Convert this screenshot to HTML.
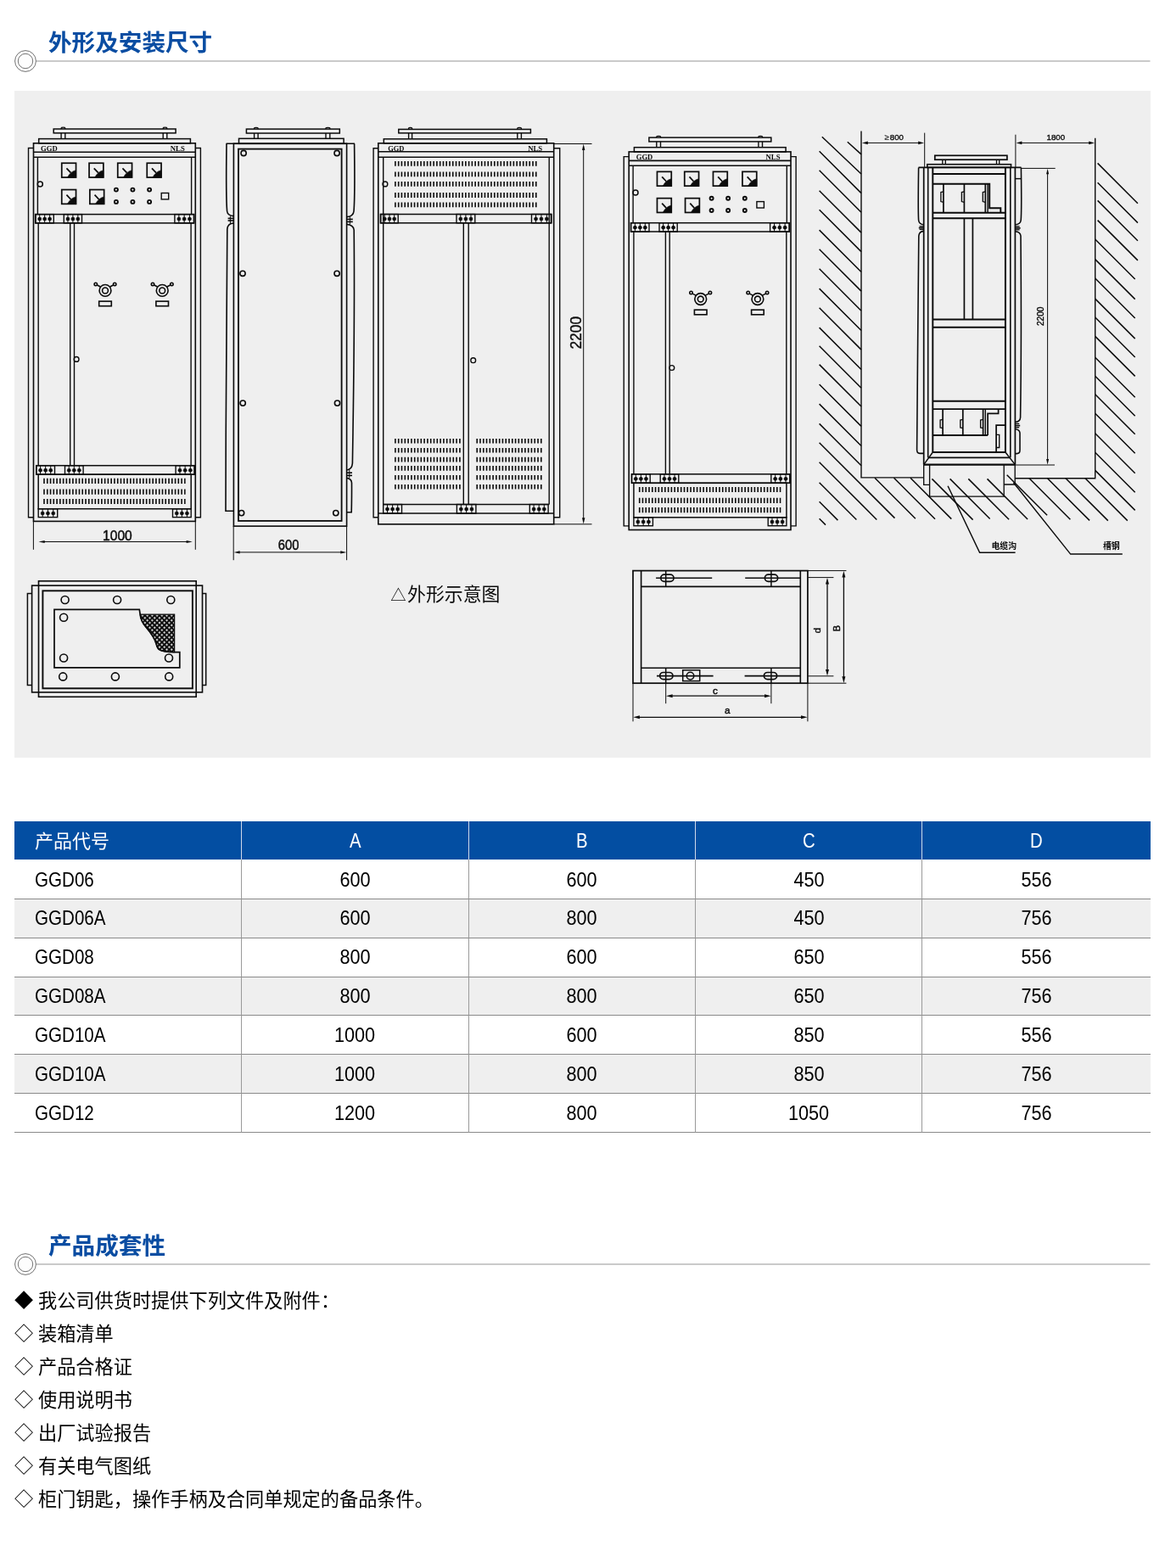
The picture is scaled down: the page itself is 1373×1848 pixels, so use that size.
<!DOCTYPE html>
<html lang="zh-CN">
<head>
<meta charset="utf-8">
<title>外形及安装尺寸</title>
<style>
*{margin:0;padding:0;box-sizing:border-box}
html,body{width:1373px;height:1848px;background:#fff;overflow:hidden}
body{position:relative;will-change:transform;font-family:"Liberation Sans","Noto Sans CJK SC",sans-serif;color:#000}
.h{position:absolute;left:57px;height:40px;line-height:40px;font-size:27.6px;font-weight:700;color:#0a4da2;white-space:nowrap}
.rule{position:absolute;left:0;width:1373px;height:30px}
.panel{position:absolute;left:17px;top:107px;width:1338.5px;height:786px;background:#efefef}
#draw{position:absolute;left:0;top:100px;width:1373px;height:800px}
table{position:absolute;left:17px;top:968px;width:1338.6px;border-collapse:separate;border-spacing:0;table-layout:fixed;font-size:22px;line-height:30px}
th,td{height:45.85px;padding:0;text-align:center;font-weight:400;vertical-align:top;white-space:nowrap;overflow:hidden}
th{background:#034ea2;color:#fff;height:45.4px;padding-top:7.6px}
td{border-bottom:1.2px solid #8a8a8a;padding-top:7.6px}
tr:first-child td{height:46.45px;padding-top:8.2px}
th+th{border-left:1.2px solid #cfd9ea}
td+td{border-left:1.2px solid #9a9a9a}
th:first-child,td:first-child{text-align:left;padding-left:24px}
tr.g td{background:#efefef}
.n{display:inline-block;font-size:23.4px;transform:scaleX(.927);transform-origin:50% 50%}
.c{display:inline-block;font-size:23.4px;transform:scaleX(.88);transform-origin:0 50%}
th .n{transform:scaleX(.87)}
th .k{display:inline-block;position:relative;top:1.5px}
.lst{position:absolute;left:17px;top:1513.6px;font-size:22.2px;line-height:39.0px;list-style:none;white-space:nowrap}
.lst li{height:39.0px}
.lst{word-spacing:-.4px}
.lst i{font-style:normal;margin-left:.3px}
</style>
</head>
<body>
<div class="h" style="top:30.6px">外形及安装尺寸</div>
<svg class="rule" style="top:57px" viewBox="0 0 1373 30" width="1373" height="30"><line x1="42.5" y1="15" x2="1355.5" y2="15" stroke="#b9b9b9" stroke-width="1.6"/><circle cx="30" cy="15" r="12.4" fill="#fff" stroke="#707070" stroke-width="1"/><circle cx="30" cy="15" r="8.7" fill="#fdfdfd" stroke="#727272" stroke-width="1"/></svg>
<div class="panel"></div>
<svg id="draw" viewBox="0 100 1373 800" width="1373" height="800" fill="none" stroke="#0c0c0c" stroke-width="1.3" font-family='"Liberation Sans","Noto Sans CJK SC",sans-serif'>
<g stroke="none" fill="#0c0c0c">
</g>
<g transform="translate(0 0)">
<path d="M72.1 152 V151 Q72.1 150.2 74.45 150.2 Q76.8 150.2 76.8 151 V152" stroke-width="1.3"/>
<line x1="72.1" y1="156.8" x2="72.1" y2="163.6" stroke-width="1.4"/>
<line x1="76.8" y1="156.8" x2="76.8" y2="163.6" stroke-width="1.4"/>
<path d="M192.2 152 V151 Q192.2 150.2 194.5 150.2 Q196.8 150.2 196.8 151 V152" stroke-width="1.3"/>
<line x1="192.2" y1="156.8" x2="192.2" y2="163.6" stroke-width="1.4"/>
<line x1="196.8" y1="156.8" x2="196.8" y2="163.6" stroke-width="1.4"/>
<rect x="63.2" y="152" width="143.9" height="4.8" stroke-width="1.51"/>
<rect x="45.7" y="163.6" width="178.7" height="5.2" stroke-width="1.51"/>
<path d="M39.5 174.5 L33.5 174.5 L33.5 609.8 L39.5 609.8" stroke-width="1.4"/>
<path d="M230.3 174.5 L236.4 174.5 L236.4 609.8 L230.3 609.8" stroke-width="1.4"/>
<rect x="39.5" y="168.8" width="190.8" height="445.6" stroke-width="1.62"/>
<line x1="39.5" y1="179.3" x2="230.3" y2="179.3" stroke-width="1.62"/>
<line x1="39.5" y1="185.2" x2="230.3" y2="185.2" stroke-width="1.62"/>
<line x1="44.4" y1="185.2" x2="44.4" y2="252.6" stroke-width="1.4"/>
<line x1="225.6" y1="185.2" x2="225.6" y2="252.6" stroke-width="1.4"/>
<text x="57.8" y="178.2" font-size="8.6" text-anchor="middle" font-weight="700" font-family='"Liberation Serif",serif' textLength="19.6" lengthAdjust="spacingAndGlyphs" fill="#0c0c0c" stroke="none">GGD</text>
<text x="209.3" y="178.2" font-size="8.6" text-anchor="middle" font-weight="700" font-family='"Liberation Serif",serif' textLength="17" lengthAdjust="spacingAndGlyphs" fill="#0c0c0c" stroke="none">NLS</text>
<rect x="72.75" y="192.25" width="16.8" height="16.8" stroke-width="1.73"/>
<path d="M89.55 209.05 H79.47 Q83.3 201.83 89.55 200.65 Z" stroke-width="0.6" fill="#0c0c0c"/>
<line x1="78.46" y1="198.3" x2="83.5" y2="203.67" stroke-width="1.73"/>
<rect x="105.05" y="192.25" width="16.8" height="16.8" stroke-width="1.73"/>
<path d="M121.85 209.05 H111.77 Q115.6 201.83 121.85 200.65 Z" stroke-width="0.6" fill="#0c0c0c"/>
<line x1="110.76" y1="198.3" x2="115.8" y2="203.67" stroke-width="1.73"/>
<rect x="138.75" y="192.25" width="16.8" height="16.8" stroke-width="1.73"/>
<path d="M155.55 209.05 H145.47 Q149.3 201.83 155.55 200.65 Z" stroke-width="0.6" fill="#0c0c0c"/>
<line x1="144.46" y1="198.3" x2="149.5" y2="203.67" stroke-width="1.73"/>
<rect x="173.25" y="192.25" width="16.8" height="16.8" stroke-width="1.73"/>
<path d="M190.05 209.05 H179.97 Q183.8 201.83 190.05 200.65 Z" stroke-width="0.6" fill="#0c0c0c"/>
<line x1="178.96" y1="198.3" x2="184" y2="203.67" stroke-width="1.73"/>
<rect x="72.75" y="223.55" width="16.8" height="16.8" stroke-width="1.73"/>
<path d="M89.55 240.35 H79.47 Q83.3 233.13 89.55 231.95 Z" stroke-width="0.6" fill="#0c0c0c"/>
<line x1="78.46" y1="229.6" x2="83.5" y2="234.97" stroke-width="1.73"/>
<rect x="105.85" y="223.55" width="16.8" height="16.8" stroke-width="1.73"/>
<path d="M122.65 240.35 H112.57 Q116.4 233.13 122.65 231.95 Z" stroke-width="0.6" fill="#0c0c0c"/>
<line x1="111.56" y1="229.6" x2="116.6" y2="234.97" stroke-width="1.73"/>
<circle cx="136.9" cy="223.6" r="2" stroke-width="1.94"/>
<circle cx="136.9" cy="237.9" r="2" stroke-width="1.94"/>
<circle cx="156.4" cy="223.6" r="2" stroke-width="1.94"/>
<circle cx="156.4" cy="237.9" r="2" stroke-width="1.94"/>
<circle cx="176.1" cy="223.6" r="2" stroke-width="1.94"/>
<circle cx="176.1" cy="237.9" r="2" stroke-width="1.94"/>
<rect x="190.2" y="227.5" width="8.5" height="7.4" stroke-width="1.4"/>
<circle cx="47.3" cy="216.9" r="3" stroke-width="1.51"/>
<rect x="41.7" y="252.6" width="187" height="10.3" stroke-width="1.51"/>
<rect x="42" y="252.6" width="21.3" height="10.3" stroke-width="1.4"/>
<line x1="46.69" y1="252.6" x2="46.69" y2="262.9" stroke-width="1"/>
<circle cx="46.69" cy="258.05" r="2.05" stroke-width="0.6" fill="#0c0c0c"/>
<line x1="52.65" y1="252.6" x2="52.65" y2="262.9" stroke-width="1"/>
<circle cx="52.65" cy="258.05" r="2.05" stroke-width="0.6" fill="#0c0c0c"/>
<line x1="58.61" y1="252.6" x2="58.61" y2="262.9" stroke-width="1"/>
<circle cx="58.61" cy="258.05" r="2.05" stroke-width="0.6" fill="#0c0c0c"/>
<rect x="75.3" y="252.6" width="21.2" height="10.3" stroke-width="1.4"/>
<line x1="79.96" y1="252.6" x2="79.96" y2="262.9" stroke-width="1"/>
<circle cx="79.96" cy="258.05" r="2.05" stroke-width="0.6" fill="#0c0c0c"/>
<line x1="85.9" y1="252.6" x2="85.9" y2="262.9" stroke-width="1"/>
<circle cx="85.9" cy="258.05" r="2.05" stroke-width="0.6" fill="#0c0c0c"/>
<line x1="91.84" y1="252.6" x2="91.84" y2="262.9" stroke-width="1"/>
<circle cx="91.84" cy="258.05" r="2.05" stroke-width="0.6" fill="#0c0c0c"/>
<rect x="205.9" y="252.6" width="22.5" height="10.3" stroke-width="1.4"/>
<line x1="210.85" y1="252.6" x2="210.85" y2="262.9" stroke-width="1"/>
<circle cx="210.85" cy="258.05" r="2.05" stroke-width="0.6" fill="#0c0c0c"/>
<line x1="217.15" y1="252.6" x2="217.15" y2="262.9" stroke-width="1"/>
<circle cx="217.15" cy="258.05" r="2.05" stroke-width="0.6" fill="#0c0c0c"/>
<line x1="223.45" y1="252.6" x2="223.45" y2="262.9" stroke-width="1"/>
<circle cx="223.45" cy="258.05" r="2.05" stroke-width="0.6" fill="#0c0c0c"/>
<line x1="45.2" y1="262.9" x2="45.2" y2="548.7" stroke-width="1.4"/>
<line x1="225.1" y1="262.9" x2="225.1" y2="548.7" stroke-width="1.4"/>
<line x1="82.7" y1="262.9" x2="82.7" y2="548.7" stroke-width="1.4"/>
<line x1="87.5" y1="262.9" x2="87.5" y2="548.7" stroke-width="1.4"/>
<circle cx="90.1" cy="423.4" r="2.9" stroke-width="1.4"/>
<circle cx="124" cy="342.4" r="6.9" stroke-width="1.62"/>
<circle cx="124" cy="342.4" r="3.4" stroke-width="1.62"/>
<line x1="118.4" y1="338" x2="114" y2="335.8" stroke-width="1.62"/>
<circle cx="112.8" cy="334.9" r="1.7" stroke-width="1.62"/>
<line x1="129.6" y1="338" x2="134" y2="335.8" stroke-width="1.62"/>
<circle cx="135.2" cy="334.9" r="1.7" stroke-width="1.62"/>
<rect x="116.7" y="355.1" width="14.6" height="5.6" stroke-width="1.62"/>
<circle cx="191.2" cy="342.4" r="6.9" stroke-width="1.62"/>
<circle cx="191.2" cy="342.4" r="3.4" stroke-width="1.62"/>
<line x1="185.6" y1="338" x2="181.2" y2="335.8" stroke-width="1.62"/>
<circle cx="180" cy="334.9" r="1.7" stroke-width="1.62"/>
<line x1="196.8" y1="338" x2="201.2" y2="335.8" stroke-width="1.62"/>
<circle cx="202.4" cy="334.9" r="1.7" stroke-width="1.62"/>
<rect x="183.9" y="355.1" width="14.6" height="5.6" stroke-width="1.62"/>
<rect x="42.8" y="548.7" width="186.4" height="10.5" stroke-width="1.51"/>
<rect x="42.8" y="548.7" width="21.7" height="10.5" stroke-width="1.4"/>
<line x1="47.57" y1="548.7" x2="47.57" y2="559.2" stroke-width="1"/>
<circle cx="47.57" cy="554.25" r="2.05" stroke-width="0.6" fill="#0c0c0c"/>
<line x1="53.65" y1="548.7" x2="53.65" y2="559.2" stroke-width="1"/>
<circle cx="53.65" cy="554.25" r="2.05" stroke-width="0.6" fill="#0c0c0c"/>
<line x1="59.73" y1="548.7" x2="59.73" y2="559.2" stroke-width="1"/>
<circle cx="59.73" cy="554.25" r="2.05" stroke-width="0.6" fill="#0c0c0c"/>
<rect x="76.5" y="548.7" width="21.6" height="10.5" stroke-width="1.4"/>
<line x1="81.25" y1="548.7" x2="81.25" y2="559.2" stroke-width="1"/>
<circle cx="81.25" cy="554.25" r="2.05" stroke-width="0.6" fill="#0c0c0c"/>
<line x1="87.3" y1="548.7" x2="87.3" y2="559.2" stroke-width="1"/>
<circle cx="87.3" cy="554.25" r="2.05" stroke-width="0.6" fill="#0c0c0c"/>
<line x1="93.35" y1="548.7" x2="93.35" y2="559.2" stroke-width="1"/>
<circle cx="93.35" cy="554.25" r="2.05" stroke-width="0.6" fill="#0c0c0c"/>
<rect x="207.1" y="548.7" width="22.1" height="10.5" stroke-width="1.4"/>
<line x1="211.96" y1="548.7" x2="211.96" y2="559.2" stroke-width="1"/>
<circle cx="211.96" cy="554.25" r="2.05" stroke-width="0.6" fill="#0c0c0c"/>
<line x1="218.15" y1="548.7" x2="218.15" y2="559.2" stroke-width="1"/>
<circle cx="218.15" cy="554.25" r="2.05" stroke-width="0.6" fill="#0c0c0c"/>
<line x1="224.34" y1="548.7" x2="224.34" y2="559.2" stroke-width="1"/>
<circle cx="224.34" cy="554.25" r="2.05" stroke-width="0.6" fill="#0c0c0c"/>
<rect x="45.2" y="559.2" width="180" height="40.5" stroke-width="1.51"/>
<line x1="51.2" y1="566.9" x2="218.6" y2="566.9" stroke-width="6.2" stroke-dasharray="1.6 2.17"/>
<line x1="51.2" y1="579.7" x2="218.6" y2="579.7" stroke-width="6.2" stroke-dasharray="1.6 2.17"/>
<line x1="51.2" y1="591" x2="218.6" y2="591" stroke-width="6.2" stroke-dasharray="1.6 2.17"/>
<rect x="45.2" y="599.7" width="22.5" height="9.9" stroke-width="1.4"/>
<line x1="50.15" y1="599.7" x2="50.15" y2="609.6" stroke-width="1"/>
<circle cx="50.15" cy="604.95" r="2.05" stroke-width="0.6" fill="#0c0c0c"/>
<line x1="56.45" y1="599.7" x2="56.45" y2="609.6" stroke-width="1"/>
<circle cx="56.45" cy="604.95" r="2.05" stroke-width="0.6" fill="#0c0c0c"/>
<line x1="62.75" y1="599.7" x2="62.75" y2="609.6" stroke-width="1"/>
<circle cx="62.75" cy="604.95" r="2.05" stroke-width="0.6" fill="#0c0c0c"/>
<rect x="203.5" y="599.7" width="21.7" height="9.9" stroke-width="1.4"/>
<line x1="208.27" y1="599.7" x2="208.27" y2="609.6" stroke-width="1"/>
<circle cx="208.27" cy="604.95" r="2.05" stroke-width="0.6" fill="#0c0c0c"/>
<line x1="214.35" y1="599.7" x2="214.35" y2="609.6" stroke-width="1"/>
<circle cx="214.35" cy="604.95" r="2.05" stroke-width="0.6" fill="#0c0c0c"/>
<line x1="220.43" y1="599.7" x2="220.43" y2="609.6" stroke-width="1"/>
<circle cx="220.43" cy="604.95" r="2.05" stroke-width="0.6" fill="#0c0c0c"/>
<line x1="39.4" y1="614.4" x2="39.4" y2="647.8" stroke-width="1"/>
<line x1="230.3" y1="614.4" x2="230.3" y2="647.8" stroke-width="1"/>
<line x1="49.82" y1="638.5" x2="222.48" y2="638.5" stroke-width="1"/>
<polygon points="45.5,638.5 52.7,636.9 52.7,640.1" fill="#0c0c0c" stroke="none"/>
<polygon points="226.8,638.5 219.6,640.1 219.6,636.9" fill="#0c0c0c" stroke="none"/>
<text x="138.4" y="636.8" font-size="15.8" text-anchor="middle" textLength="34.6" lengthAdjust="spacingAndGlyphs" fill="#0c0c0c" stroke="#0c0c0c" stroke-width="0.45">1000</text>
</g>
<path d="M299.6 152.1 V151.1 Q299.6 150.3 301.85 150.3 Q304.1 150.3 304.1 151.1 V152.1" stroke-width="1.3"/>
<line x1="299.6" y1="157" x2="299.6" y2="163.3" stroke-width="1.4"/>
<line x1="304.1" y1="157" x2="304.1" y2="163.3" stroke-width="1.4"/>
<path d="M384 152.1 V151.1 Q384 150.3 386.4 150.3 Q388.8 150.3 388.8 151.1 V152.1" stroke-width="1.3"/>
<line x1="384" y1="157" x2="384" y2="163.3" stroke-width="1.4"/>
<line x1="388.8" y1="157" x2="388.8" y2="163.3" stroke-width="1.4"/>
<rect x="290.4" y="152.1" width="109.9" height="4.9" stroke-width="1.51"/>
<rect x="281.5" y="163.3" width="123.6" height="6" stroke-width="1.51"/>
<rect x="275.4" y="169.3" width="133.2" height="450.8" stroke-width="1.62"/>
<rect x="281" y="175.6" width="121.6" height="438.3" stroke-width="1.84"/>
<line x1="266.6" y1="169.3" x2="418" y2="169.3" stroke-width="1.51"/>
<path d="M267 169.3 C266.6 200 266.4 235 267.6 249 C268.2 253 271 254.4 275.4 254.6" stroke-width="1.62"/>
<line x1="268.6" y1="257.4" x2="275.4" y2="257.4" stroke-width="1.62"/>
<line x1="268.6" y1="260" x2="275.4" y2="260" stroke-width="1.62"/>
<line x1="271.4" y1="254.6" x2="271.4" y2="263" stroke-width="1"/>
<path d="M275.4 263 C270.5 263.2 268.2 265.2 267.8 270 C267 330 266.2 480 266 602.2 H275.4" stroke-width="1.62"/>
<path d="M417.6 169.3 C418 200 418.2 235 417 249 C416.4 253.4 413.4 255.4 408.6 255.6" stroke-width="1.62"/>
<line x1="408.6" y1="258.4" x2="415.8" y2="258.4" stroke-width="1.62"/>
<line x1="408.6" y1="261.4" x2="415.8" y2="261.4" stroke-width="1.62"/>
<line x1="412.4" y1="255.6" x2="412.4" y2="264.4" stroke-width="1"/>
<path d="M408.6 264.4 C413.6 264.8 416.6 266.6 417.2 271 C417.8 330 417.2 440 415.4 546 C415 551 413 553.6 408.6 554" stroke-width="1.62"/>
<line x1="408.6" y1="557.2" x2="415" y2="557.2" stroke-width="1.62"/>
<line x1="408.6" y1="560.4" x2="415" y2="560.4" stroke-width="1.62"/>
<line x1="411.8" y1="554" x2="411.8" y2="563.4" stroke-width="1"/>
<path d="M408.6 563.4 C412.4 563.8 414.2 565.6 414.5 569 C414.6 580 414.4 595 414.2 603.8 H408.6" stroke-width="1.62"/>
<circle cx="287.1" cy="180.5" r="3.1" stroke-width="1.62"/>
<circle cx="397.1" cy="180.5" r="3.1" stroke-width="1.62"/>
<circle cx="286" cy="322.3" r="3.1" stroke-width="1.62"/>
<circle cx="397.1" cy="322.3" r="3.1" stroke-width="1.62"/>
<circle cx="286.2" cy="475.1" r="3.1" stroke-width="1.62"/>
<circle cx="397.5" cy="475.1" r="3.1" stroke-width="1.62"/>
<circle cx="284.6" cy="604.6" r="3.1" stroke-width="1.62"/>
<circle cx="395.8" cy="604.6" r="3.1" stroke-width="1.62"/>
<line x1="275.2" y1="620.1" x2="275.2" y2="660.2" stroke-width="1"/>
<line x1="408.6" y1="620.1" x2="408.6" y2="660.2" stroke-width="1"/>
<line x1="279.8" y1="650.9" x2="404.1" y2="650.9" stroke-width="1"/>
<polygon points="275.6,650.9 282.6,649.2 282.6,652.6" fill="#0c0c0c" stroke="none"/>
<polygon points="408.3,650.9 401.3,652.6 401.3,649.2" fill="#0c0c0c" stroke="none"/>
<text x="340.1" y="647.5" font-size="16.4" text-anchor="middle" textLength="24.6" lengthAdjust="spacingAndGlyphs" fill="#0c0c0c" stroke="#0c0c0c" stroke-width="0.45">600</text>
<path d="M481.6 152.4 V151.3 Q481.6 150.5 483.6 150.5 Q485.6 150.5 485.6 151.3 V152.4" stroke-width="1.3"/>
<line x1="481.6" y1="156.8" x2="481.6" y2="163.8" stroke-width="1.4"/>
<line x1="485.6" y1="156.8" x2="485.6" y2="163.8" stroke-width="1.4"/>
<path d="M609.8 152.4 V151.3 Q609.8 150.5 612.1 150.5 Q614.4 150.5 614.4 151.3 V152.4" stroke-width="1.3"/>
<line x1="609.8" y1="156.8" x2="609.8" y2="163.8" stroke-width="1.4"/>
<line x1="614.4" y1="156.8" x2="614.4" y2="163.8" stroke-width="1.4"/>
<rect x="469.8" y="152.4" width="155.6" height="4.4" stroke-width="1.51"/>
<rect x="452.3" y="163.8" width="192.1" height="5" stroke-width="1.51"/>
<path d="M445.8 174.7 L440.1 174.7 L440.1 609.8 L445.8 609.8" stroke-width="1.4"/>
<path d="M652.7 174.7 L659.7 174.7 L659.7 609.8 L652.7 609.8" stroke-width="1.4"/>
<rect x="445.8" y="168.8" width="206.9" height="449" stroke-width="1.62"/>
<line x1="445.8" y1="178.7" x2="652.7" y2="178.7" stroke-width="1.62"/>
<line x1="445.8" y1="185.2" x2="652.7" y2="185.2" stroke-width="1.62"/>
<text x="466.8" y="178.1" font-size="8.6" text-anchor="middle" font-weight="700" font-family='"Liberation Serif",serif' textLength="19.3" lengthAdjust="spacingAndGlyphs" fill="#0c0c0c" stroke="none">GGD</text>
<text x="630.7" y="178.1" font-size="8.6" text-anchor="middle" font-weight="700" font-family='"Liberation Serif",serif' textLength="17" lengthAdjust="spacingAndGlyphs" fill="#0c0c0c" stroke="none">NLS</text>
<line x1="451.7" y1="185.2" x2="451.7" y2="594.5" stroke-width="1.4"/>
<line x1="647.2" y1="185.2" x2="647.2" y2="594.5" stroke-width="1.4"/>
<line x1="465.1" y1="192.9" x2="632.7" y2="192.9" stroke-width="5.8" stroke-dasharray="1.6 2.17"/>
<line x1="465.1" y1="205.3" x2="632.7" y2="205.3" stroke-width="5.8" stroke-dasharray="1.6 2.17"/>
<line x1="465.1" y1="216.9" x2="632.7" y2="216.9" stroke-width="5.8" stroke-dasharray="1.6 2.17"/>
<line x1="465.1" y1="230" x2="632.7" y2="230" stroke-width="5.8" stroke-dasharray="1.6 2.17"/>
<line x1="465.1" y1="241.4" x2="632.7" y2="241.4" stroke-width="5.8" stroke-dasharray="1.6 2.17"/>
<circle cx="453.9" cy="216.9" r="2.9" stroke-width="1.4"/>
<rect x="448.4" y="252.5" width="201.5" height="10.3" stroke-width="1.51"/>
<rect x="448.8" y="252.5" width="20.4" height="10.3" stroke-width="1.4"/>
<line x1="453.29" y1="252.5" x2="453.29" y2="262.8" stroke-width="1"/>
<circle cx="453.29" cy="257.95" r="2.05" stroke-width="0.6" fill="#0c0c0c"/>
<line x1="459" y1="252.5" x2="459" y2="262.8" stroke-width="1"/>
<circle cx="459" cy="257.95" r="2.05" stroke-width="0.6" fill="#0c0c0c"/>
<line x1="464.71" y1="252.5" x2="464.71" y2="262.8" stroke-width="1"/>
<circle cx="464.71" cy="257.95" r="2.05" stroke-width="0.6" fill="#0c0c0c"/>
<rect x="538" y="252.5" width="21.8" height="10.3" stroke-width="1.4"/>
<line x1="542.8" y1="252.5" x2="542.8" y2="262.8" stroke-width="1"/>
<circle cx="542.8" cy="257.95" r="2.05" stroke-width="0.6" fill="#0c0c0c"/>
<line x1="548.9" y1="252.5" x2="548.9" y2="262.8" stroke-width="1"/>
<circle cx="548.9" cy="257.95" r="2.05" stroke-width="0.6" fill="#0c0c0c"/>
<line x1="555" y1="252.5" x2="555" y2="262.8" stroke-width="1"/>
<circle cx="555" cy="257.95" r="2.05" stroke-width="0.6" fill="#0c0c0c"/>
<rect x="626.5" y="252.5" width="22.9" height="10.3" stroke-width="1.4"/>
<line x1="631.54" y1="252.5" x2="631.54" y2="262.8" stroke-width="1"/>
<circle cx="631.54" cy="257.95" r="2.05" stroke-width="0.6" fill="#0c0c0c"/>
<line x1="637.95" y1="252.5" x2="637.95" y2="262.8" stroke-width="1"/>
<circle cx="637.95" cy="257.95" r="2.05" stroke-width="0.6" fill="#0c0c0c"/>
<line x1="644.36" y1="252.5" x2="644.36" y2="262.8" stroke-width="1"/>
<circle cx="644.36" cy="257.95" r="2.05" stroke-width="0.6" fill="#0c0c0c"/>
<line x1="546.3" y1="262.8" x2="546.3" y2="594.5" stroke-width="1.4"/>
<line x1="552.2" y1="262.8" x2="552.2" y2="594.5" stroke-width="1.4"/>
<circle cx="557.7" cy="424.7" r="2.9" stroke-width="1.4"/>
<line x1="465.1" y1="519.7" x2="542.7" y2="519.7" stroke-width="5.6" stroke-dasharray="1.6 2.2"/>
<line x1="465.1" y1="530.7" x2="542.7" y2="530.7" stroke-width="5.6" stroke-dasharray="1.6 2.2"/>
<line x1="465.1" y1="541.6" x2="542.7" y2="541.6" stroke-width="5.6" stroke-dasharray="1.6 2.2"/>
<line x1="465.1" y1="551.9" x2="542.7" y2="551.9" stroke-width="5.6" stroke-dasharray="1.6 2.2"/>
<line x1="465.1" y1="562.8" x2="542.7" y2="562.8" stroke-width="5.6" stroke-dasharray="1.6 2.2"/>
<line x1="465.1" y1="573.7" x2="542.7" y2="573.7" stroke-width="5.6" stroke-dasharray="1.6 2.2"/>
<line x1="561.4" y1="519.7" x2="638.6" y2="519.7" stroke-width="5.6" stroke-dasharray="1.6 2.18"/>
<line x1="561.4" y1="530.7" x2="638.6" y2="530.7" stroke-width="5.6" stroke-dasharray="1.6 2.18"/>
<line x1="561.4" y1="541.6" x2="638.6" y2="541.6" stroke-width="5.6" stroke-dasharray="1.6 2.18"/>
<line x1="561.4" y1="551.9" x2="638.6" y2="551.9" stroke-width="5.6" stroke-dasharray="1.6 2.18"/>
<line x1="561.4" y1="562.8" x2="638.6" y2="562.8" stroke-width="5.6" stroke-dasharray="1.6 2.18"/>
<line x1="561.4" y1="573.7" x2="638.6" y2="573.7" stroke-width="5.6" stroke-dasharray="1.6 2.18"/>
<line x1="451.7" y1="594.5" x2="647.2" y2="594.5" stroke-width="1.51"/>
<line x1="445.8" y1="605" x2="652.7" y2="605" stroke-width="1.62"/>
<rect x="451.7" y="594.5" width="21.8" height="10.5" stroke-width="1.4"/>
<line x1="456.5" y1="594.5" x2="456.5" y2="605" stroke-width="1"/>
<circle cx="456.5" cy="600.05" r="2.05" stroke-width="0.6" fill="#0c0c0c"/>
<line x1="462.6" y1="594.5" x2="462.6" y2="605" stroke-width="1"/>
<circle cx="462.6" cy="600.05" r="2.05" stroke-width="0.6" fill="#0c0c0c"/>
<line x1="468.7" y1="594.5" x2="468.7" y2="605" stroke-width="1"/>
<circle cx="468.7" cy="600.05" r="2.05" stroke-width="0.6" fill="#0c0c0c"/>
<rect x="538.4" y="594.5" width="22.5" height="10.5" stroke-width="1.4"/>
<line x1="543.35" y1="594.5" x2="543.35" y2="605" stroke-width="1"/>
<circle cx="543.35" cy="600.05" r="2.05" stroke-width="0.6" fill="#0c0c0c"/>
<line x1="549.65" y1="594.5" x2="549.65" y2="605" stroke-width="1"/>
<circle cx="549.65" cy="600.05" r="2.05" stroke-width="0.6" fill="#0c0c0c"/>
<line x1="555.95" y1="594.5" x2="555.95" y2="605" stroke-width="1"/>
<circle cx="555.95" cy="600.05" r="2.05" stroke-width="0.6" fill="#0c0c0c"/>
<rect x="624.3" y="594.5" width="21.8" height="10.5" stroke-width="1.4"/>
<line x1="629.1" y1="594.5" x2="629.1" y2="605" stroke-width="1"/>
<circle cx="629.1" cy="600.05" r="2.05" stroke-width="0.6" fill="#0c0c0c"/>
<line x1="635.2" y1="594.5" x2="635.2" y2="605" stroke-width="1"/>
<circle cx="635.2" cy="600.05" r="2.05" stroke-width="0.6" fill="#0c0c0c"/>
<line x1="641.3" y1="594.5" x2="641.3" y2="605" stroke-width="1"/>
<circle cx="641.3" cy="600.05" r="2.05" stroke-width="0.6" fill="#0c0c0c"/>
<line x1="652.7" y1="169.5" x2="697.5" y2="169.5" stroke-width="1"/>
<line x1="652.7" y1="617.8" x2="697.5" y2="617.8" stroke-width="1"/>
<line x1="687.7" y1="174.14" x2="687.7" y2="613.16" stroke-width="1"/>
<polygon points="687.7,169.7 689.4,177.1 686,177.1" fill="#0c0c0c" stroke="none"/>
<polygon points="687.7,617.6 686,610.2 689.4,610.2" fill="#0c0c0c" stroke="none"/>
<text x="685.1" y="392.2" font-size="17.7" text-anchor="middle" transform="rotate(-90 685.1 392.2)" textLength="38.7" lengthAdjust="spacingAndGlyphs" fill="#0c0c0c" stroke="#0c0c0c" stroke-width="0.4">2200</text>
<g transform="translate(701.7 10.1)">
<path d="M72.1 152 V151 Q72.1 150.2 74.45 150.2 Q76.8 150.2 76.8 151 V152" stroke-width="1.3"/>
<line x1="72.1" y1="156.8" x2="72.1" y2="163.6" stroke-width="1.4"/>
<line x1="76.8" y1="156.8" x2="76.8" y2="163.6" stroke-width="1.4"/>
<path d="M192.2 152 V151 Q192.2 150.2 194.5 150.2 Q196.8 150.2 196.8 151 V152" stroke-width="1.3"/>
<line x1="192.2" y1="156.8" x2="192.2" y2="163.6" stroke-width="1.4"/>
<line x1="196.8" y1="156.8" x2="196.8" y2="163.6" stroke-width="1.4"/>
<rect x="63.2" y="152" width="143.9" height="4.8" stroke-width="1.51"/>
<rect x="45.7" y="163.6" width="178.7" height="5.2" stroke-width="1.51"/>
<path d="M39.5 174.5 L33.5 174.5 L33.5 609.8 L39.5 609.8" stroke-width="1.4"/>
<path d="M230.3 174.5 L236.4 174.5 L236.4 609.8 L230.3 609.8" stroke-width="1.4"/>
<rect x="39.5" y="168.8" width="190.8" height="445.6" stroke-width="1.62"/>
<line x1="39.5" y1="179.3" x2="230.3" y2="179.3" stroke-width="1.62"/>
<line x1="39.5" y1="185.2" x2="230.3" y2="185.2" stroke-width="1.62"/>
<line x1="44.4" y1="185.2" x2="44.4" y2="252.6" stroke-width="1.4"/>
<line x1="225.6" y1="185.2" x2="225.6" y2="252.6" stroke-width="1.4"/>
<text x="57.8" y="178.2" font-size="8.6" text-anchor="middle" font-weight="700" font-family='"Liberation Serif",serif' textLength="19.6" lengthAdjust="spacingAndGlyphs" fill="#0c0c0c" stroke="none">GGD</text>
<text x="209.3" y="178.2" font-size="8.6" text-anchor="middle" font-weight="700" font-family='"Liberation Serif",serif' textLength="17" lengthAdjust="spacingAndGlyphs" fill="#0c0c0c" stroke="none">NLS</text>
<rect x="72.75" y="192.25" width="16.8" height="16.8" stroke-width="1.73"/>
<path d="M89.55 209.05 H79.47 Q83.3 201.83 89.55 200.65 Z" stroke-width="0.6" fill="#0c0c0c"/>
<line x1="78.46" y1="198.3" x2="83.5" y2="203.67" stroke-width="1.73"/>
<rect x="105.05" y="192.25" width="16.8" height="16.8" stroke-width="1.73"/>
<path d="M121.85 209.05 H111.77 Q115.6 201.83 121.85 200.65 Z" stroke-width="0.6" fill="#0c0c0c"/>
<line x1="110.76" y1="198.3" x2="115.8" y2="203.67" stroke-width="1.73"/>
<rect x="138.75" y="192.25" width="16.8" height="16.8" stroke-width="1.73"/>
<path d="M155.55 209.05 H145.47 Q149.3 201.83 155.55 200.65 Z" stroke-width="0.6" fill="#0c0c0c"/>
<line x1="144.46" y1="198.3" x2="149.5" y2="203.67" stroke-width="1.73"/>
<rect x="173.25" y="192.25" width="16.8" height="16.8" stroke-width="1.73"/>
<path d="M190.05 209.05 H179.97 Q183.8 201.83 190.05 200.65 Z" stroke-width="0.6" fill="#0c0c0c"/>
<line x1="178.96" y1="198.3" x2="184" y2="203.67" stroke-width="1.73"/>
<rect x="72.75" y="223.55" width="16.8" height="16.8" stroke-width="1.73"/>
<path d="M89.55 240.35 H79.47 Q83.3 233.13 89.55 231.95 Z" stroke-width="0.6" fill="#0c0c0c"/>
<line x1="78.46" y1="229.6" x2="83.5" y2="234.97" stroke-width="1.73"/>
<rect x="105.85" y="223.55" width="16.8" height="16.8" stroke-width="1.73"/>
<path d="M122.65 240.35 H112.57 Q116.4 233.13 122.65 231.95 Z" stroke-width="0.6" fill="#0c0c0c"/>
<line x1="111.56" y1="229.6" x2="116.6" y2="234.97" stroke-width="1.73"/>
<circle cx="136.9" cy="223.6" r="2" stroke-width="1.94"/>
<circle cx="136.9" cy="237.9" r="2" stroke-width="1.94"/>
<circle cx="156.4" cy="223.6" r="2" stroke-width="1.94"/>
<circle cx="156.4" cy="237.9" r="2" stroke-width="1.94"/>
<circle cx="176.1" cy="223.6" r="2" stroke-width="1.94"/>
<circle cx="176.1" cy="237.9" r="2" stroke-width="1.94"/>
<rect x="190.2" y="227.5" width="8.5" height="7.4" stroke-width="1.4"/>
<circle cx="47.3" cy="216.9" r="3" stroke-width="1.51"/>
<rect x="41.7" y="252.6" width="187" height="10.3" stroke-width="1.51"/>
<rect x="42" y="252.6" width="21.3" height="10.3" stroke-width="1.4"/>
<line x1="46.69" y1="252.6" x2="46.69" y2="262.9" stroke-width="1"/>
<circle cx="46.69" cy="258.05" r="2.05" stroke-width="0.6" fill="#0c0c0c"/>
<line x1="52.65" y1="252.6" x2="52.65" y2="262.9" stroke-width="1"/>
<circle cx="52.65" cy="258.05" r="2.05" stroke-width="0.6" fill="#0c0c0c"/>
<line x1="58.61" y1="252.6" x2="58.61" y2="262.9" stroke-width="1"/>
<circle cx="58.61" cy="258.05" r="2.05" stroke-width="0.6" fill="#0c0c0c"/>
<rect x="75.3" y="252.6" width="21.2" height="10.3" stroke-width="1.4"/>
<line x1="79.96" y1="252.6" x2="79.96" y2="262.9" stroke-width="1"/>
<circle cx="79.96" cy="258.05" r="2.05" stroke-width="0.6" fill="#0c0c0c"/>
<line x1="85.9" y1="252.6" x2="85.9" y2="262.9" stroke-width="1"/>
<circle cx="85.9" cy="258.05" r="2.05" stroke-width="0.6" fill="#0c0c0c"/>
<line x1="91.84" y1="252.6" x2="91.84" y2="262.9" stroke-width="1"/>
<circle cx="91.84" cy="258.05" r="2.05" stroke-width="0.6" fill="#0c0c0c"/>
<rect x="205.9" y="252.6" width="22.5" height="10.3" stroke-width="1.4"/>
<line x1="210.85" y1="252.6" x2="210.85" y2="262.9" stroke-width="1"/>
<circle cx="210.85" cy="258.05" r="2.05" stroke-width="0.6" fill="#0c0c0c"/>
<line x1="217.15" y1="252.6" x2="217.15" y2="262.9" stroke-width="1"/>
<circle cx="217.15" cy="258.05" r="2.05" stroke-width="0.6" fill="#0c0c0c"/>
<line x1="223.45" y1="252.6" x2="223.45" y2="262.9" stroke-width="1"/>
<circle cx="223.45" cy="258.05" r="2.05" stroke-width="0.6" fill="#0c0c0c"/>
<line x1="45.2" y1="262.9" x2="45.2" y2="548.7" stroke-width="1.4"/>
<line x1="225.1" y1="262.9" x2="225.1" y2="548.7" stroke-width="1.4"/>
<line x1="82.7" y1="262.9" x2="82.7" y2="548.7" stroke-width="1.4"/>
<line x1="87.5" y1="262.9" x2="87.5" y2="548.7" stroke-width="1.4"/>
<circle cx="90.1" cy="423.4" r="2.9" stroke-width="1.4"/>
<circle cx="124" cy="342.4" r="6.9" stroke-width="1.62"/>
<circle cx="124" cy="342.4" r="3.4" stroke-width="1.62"/>
<line x1="118.4" y1="338" x2="114" y2="335.8" stroke-width="1.62"/>
<circle cx="112.8" cy="334.9" r="1.7" stroke-width="1.62"/>
<line x1="129.6" y1="338" x2="134" y2="335.8" stroke-width="1.62"/>
<circle cx="135.2" cy="334.9" r="1.7" stroke-width="1.62"/>
<rect x="116.7" y="355.1" width="14.6" height="5.6" stroke-width="1.62"/>
<circle cx="191.2" cy="342.4" r="6.9" stroke-width="1.62"/>
<circle cx="191.2" cy="342.4" r="3.4" stroke-width="1.62"/>
<line x1="185.6" y1="338" x2="181.2" y2="335.8" stroke-width="1.62"/>
<circle cx="180" cy="334.9" r="1.7" stroke-width="1.62"/>
<line x1="196.8" y1="338" x2="201.2" y2="335.8" stroke-width="1.62"/>
<circle cx="202.4" cy="334.9" r="1.7" stroke-width="1.62"/>
<rect x="183.9" y="355.1" width="14.6" height="5.6" stroke-width="1.62"/>
<rect x="42.8" y="548.7" width="186.4" height="10.5" stroke-width="1.51"/>
<rect x="42.8" y="548.7" width="21.7" height="10.5" stroke-width="1.4"/>
<line x1="47.57" y1="548.7" x2="47.57" y2="559.2" stroke-width="1"/>
<circle cx="47.57" cy="554.25" r="2.05" stroke-width="0.6" fill="#0c0c0c"/>
<line x1="53.65" y1="548.7" x2="53.65" y2="559.2" stroke-width="1"/>
<circle cx="53.65" cy="554.25" r="2.05" stroke-width="0.6" fill="#0c0c0c"/>
<line x1="59.73" y1="548.7" x2="59.73" y2="559.2" stroke-width="1"/>
<circle cx="59.73" cy="554.25" r="2.05" stroke-width="0.6" fill="#0c0c0c"/>
<rect x="76.5" y="548.7" width="21.6" height="10.5" stroke-width="1.4"/>
<line x1="81.25" y1="548.7" x2="81.25" y2="559.2" stroke-width="1"/>
<circle cx="81.25" cy="554.25" r="2.05" stroke-width="0.6" fill="#0c0c0c"/>
<line x1="87.3" y1="548.7" x2="87.3" y2="559.2" stroke-width="1"/>
<circle cx="87.3" cy="554.25" r="2.05" stroke-width="0.6" fill="#0c0c0c"/>
<line x1="93.35" y1="548.7" x2="93.35" y2="559.2" stroke-width="1"/>
<circle cx="93.35" cy="554.25" r="2.05" stroke-width="0.6" fill="#0c0c0c"/>
<rect x="207.1" y="548.7" width="22.1" height="10.5" stroke-width="1.4"/>
<line x1="211.96" y1="548.7" x2="211.96" y2="559.2" stroke-width="1"/>
<circle cx="211.96" cy="554.25" r="2.05" stroke-width="0.6" fill="#0c0c0c"/>
<line x1="218.15" y1="548.7" x2="218.15" y2="559.2" stroke-width="1"/>
<circle cx="218.15" cy="554.25" r="2.05" stroke-width="0.6" fill="#0c0c0c"/>
<line x1="224.34" y1="548.7" x2="224.34" y2="559.2" stroke-width="1"/>
<circle cx="224.34" cy="554.25" r="2.05" stroke-width="0.6" fill="#0c0c0c"/>
<rect x="45.2" y="559.2" width="180" height="40.5" stroke-width="1.51"/>
<line x1="51.2" y1="566.9" x2="218.6" y2="566.9" stroke-width="6.2" stroke-dasharray="1.6 2.17"/>
<line x1="51.2" y1="579.7" x2="218.6" y2="579.7" stroke-width="6.2" stroke-dasharray="1.6 2.17"/>
<line x1="51.2" y1="591" x2="218.6" y2="591" stroke-width="6.2" stroke-dasharray="1.6 2.17"/>
<rect x="45.2" y="599.7" width="22.5" height="9.9" stroke-width="1.4"/>
<line x1="50.15" y1="599.7" x2="50.15" y2="609.6" stroke-width="1"/>
<circle cx="50.15" cy="604.95" r="2.05" stroke-width="0.6" fill="#0c0c0c"/>
<line x1="56.45" y1="599.7" x2="56.45" y2="609.6" stroke-width="1"/>
<circle cx="56.45" cy="604.95" r="2.05" stroke-width="0.6" fill="#0c0c0c"/>
<line x1="62.75" y1="599.7" x2="62.75" y2="609.6" stroke-width="1"/>
<circle cx="62.75" cy="604.95" r="2.05" stroke-width="0.6" fill="#0c0c0c"/>
<rect x="203.5" y="599.7" width="21.7" height="9.9" stroke-width="1.4"/>
<line x1="208.27" y1="599.7" x2="208.27" y2="609.6" stroke-width="1"/>
<circle cx="208.27" cy="604.95" r="2.05" stroke-width="0.6" fill="#0c0c0c"/>
<line x1="214.35" y1="599.7" x2="214.35" y2="609.6" stroke-width="1"/>
<circle cx="214.35" cy="604.95" r="2.05" stroke-width="0.6" fill="#0c0c0c"/>
<line x1="220.43" y1="599.7" x2="220.43" y2="609.6" stroke-width="1"/>
<circle cx="220.43" cy="604.95" r="2.05" stroke-width="0.6" fill="#0c0c0c"/>
</g>
<text x="460.2" y="708.4" font-size="21.9" fill="#0c0c0c" stroke="none"><tspan font-size="18.4" dy="-0.8">△</tspan><tspan x="480" dy="0.8">外形示意图</tspan></text>
<defs><pattern id="xh" width="4.05" height="4.05" patternUnits="userSpaceOnUse" patternTransform="rotate(45 165 724)"><rect width="4.05" height="4.05" fill="#0c0c0c" stroke="none"/><rect x="1" y="1" width="2.05" height="2.05" rx="0.5" fill="#ededed" stroke="none"/></pattern></defs>
<rect x="45.5" y="684.8" width="185.7" height="136.5" stroke-width="1.62"/>
<rect x="37.6" y="690.1" width="200.9" height="125.8" stroke-width="1.62"/>
<path d="M37.6 699.6 L32.4 699.6 L32.4 807.4 L37.6 807.4" stroke-width="1.51"/>
<path d="M238.5 699.6 L242.7 699.6 L242.7 807.4 L238.5 807.4" stroke-width="1.51"/>
<rect x="50.4" y="696.3" width="176.5" height="115" stroke-width="1.94"/>
<circle cx="76.6" cy="707" r="4.5" stroke-width="1.62"/>
<circle cx="138.1" cy="707" r="4.5" stroke-width="1.62"/>
<circle cx="201.3" cy="707" r="4.5" stroke-width="1.62"/>
<circle cx="74.2" cy="797.4" r="4.5" stroke-width="1.62"/>
<circle cx="135.9" cy="797.4" r="4.5" stroke-width="1.62"/>
<circle cx="199.2" cy="797.4" r="4.5" stroke-width="1.62"/>
<circle cx="75.1" cy="727.8" r="4.5" stroke-width="1.62"/>
<circle cx="75.1" cy="775.5" r="4.5" stroke-width="1.62"/>
<circle cx="199" cy="775.5" r="4.5" stroke-width="1.62"/>
<path d="M165.2 724.2 H205.6 V768.7 C202 768.6 198 768.3 193.5 767.6 C187.4 766.6 185.6 765 184.2 759 C182 751 178 746 172 739 C166.4 732.6 165.6 729 165.2 724.2 Z" stroke-width="1.3" fill="url(#xh)"/>
<path d="M64 718.4 H164.3 L165.2 724.2 C165.6 729 166.4 732.6 172 739 C178 746 182 751 184.2 759 C185.6 765 187.4 766.6 193.5 767.6 C198 768.3 202 768.6 205.6 768.7 H211.8 V786.9 H64 Z" stroke-width="1.73"/>
<rect x="746" y="672.6" width="205.9" height="132.6" stroke-width="1.73"/>
<line x1="755.6" y1="672.6" x2="755.6" y2="805.2" stroke-width="1.62"/>
<line x1="943.3" y1="672.6" x2="943.3" y2="805.2" stroke-width="1.62"/>
<line x1="755.6" y1="691.4" x2="943.3" y2="691.4" stroke-width="1.62"/>
<line x1="755.6" y1="787.2" x2="943.3" y2="787.2" stroke-width="1.62"/>
<rect x="778.8" y="677.1" width="15.2" height="8.2" stroke-width="1.73" rx="4.1"/>
<line x1="773.1" y1="681.2" x2="839.2" y2="681.2" stroke-width="1.62"/>
<line x1="784.7" y1="672.6" x2="784.7" y2="691.4" stroke-width="1.51"/>
<rect x="901.4" y="677.1" width="15.2" height="8.2" stroke-width="1.73" rx="4.1"/>
<line x1="878.2" y1="681.2" x2="943.3" y2="681.2" stroke-width="1.62"/>
<line x1="908.9" y1="672.6" x2="908.9" y2="691.4" stroke-width="1.51"/>
<rect x="777.7" y="792.5" width="15.2" height="8.2" stroke-width="1.73" rx="4.1"/>
<line x1="774" y1="796.6" x2="840.6" y2="796.6" stroke-width="1.62"/>
<line x1="784.7" y1="787.2" x2="784.7" y2="805.2" stroke-width="1.51"/>
<rect x="900.4" y="792.5" width="15.2" height="8.2" stroke-width="1.73" rx="4.1"/>
<line x1="877.6" y1="796.6" x2="943.3" y2="796.6" stroke-width="1.62"/>
<line x1="908.9" y1="787.2" x2="908.9" y2="805.2" stroke-width="1.51"/>
<rect x="804.7" y="789.8" width="20" height="12.8" stroke-width="1.51"/>
<circle cx="813.5" cy="796.6" r="4.3" stroke-width="1.51"/>
<line x1="784.7" y1="805.2" x2="784.7" y2="829.2" stroke-width="1"/>
<line x1="908.9" y1="805.2" x2="908.9" y2="829.2" stroke-width="1"/>
<line x1="789.56" y1="820.2" x2="904.04" y2="820.2" stroke-width="1.3"/>
<polygon points="785,820.2 792.6,818.2 792.6,822.2" fill="#0c0c0c" stroke="none"/>
<polygon points="908.6,820.2 901,822.2 901,818.2" fill="#0c0c0c" stroke="none"/>
<text x="843" y="818.4" font-size="11.6" text-anchor="middle" fill="#0c0c0c" stroke="#0c0c0c" stroke-width="0.45">c</text>
<line x1="746" y1="805.2" x2="746" y2="850.3" stroke-width="1"/>
<line x1="951.9" y1="805.2" x2="951.9" y2="850.3" stroke-width="1"/>
<line x1="750.86" y1="845.3" x2="947.04" y2="845.3" stroke-width="1.3"/>
<polygon points="746.3,845.3 753.9,843.3 753.9,847.3" fill="#0c0c0c" stroke="none"/>
<polygon points="951.6,845.3 944,847.3 944,843.3" fill="#0c0c0c" stroke="none"/>
<text x="857.2" y="841.3" font-size="11.6" text-anchor="middle" fill="#0c0c0c" stroke="#0c0c0c" stroke-width="0.45">a</text>
<line x1="952.3" y1="680.6" x2="982.4" y2="680.6" stroke-width="1"/>
<line x1="952.3" y1="796.8" x2="982.4" y2="796.8" stroke-width="1"/>
<line x1="975" y1="685.46" x2="975" y2="791.94" stroke-width="1.3"/>
<polygon points="975,680.9 977,688.5 973,688.5" fill="#0c0c0c" stroke="none"/>
<polygon points="975,796.5 973,788.9 977,788.9" fill="#0c0c0c" stroke="none"/>
<text x="967.5" y="743.2" font-size="11.4" text-anchor="middle" transform="rotate(-90 967.5 743.2)" fill="#0c0c0c" stroke="#0c0c0c" stroke-width="0.45">d</text>
<line x1="951.9" y1="672.6" x2="997.4" y2="672.6" stroke-width="1"/>
<line x1="951.9" y1="805.2" x2="997.4" y2="805.2" stroke-width="1"/>
<line x1="994.4" y1="677.46" x2="994.4" y2="800.34" stroke-width="1.3"/>
<polygon points="994.4,672.9 996.4,680.5 992.4,680.5" fill="#0c0c0c" stroke="none"/>
<polygon points="994.4,804.9 992.4,797.3 996.4,797.3" fill="#0c0c0c" stroke="none"/>
<text x="989.5" y="740.5" font-size="11" text-anchor="middle" transform="rotate(-90 989.5 740.5)" fill="#0c0c0c" stroke="#0c0c0c" stroke-width="0.45">B</text>
<path d="M998.8 167.3L1015 181.9M968.8 161.2L1015 205M965.6 178.2L1015 227.6M965.6 200.8L1015 250.2M965.6 224.7L1015 274.1M965.6 247.2L1015 296.6M965.6 271.1L1015 320.5M965.6 293.7L1015 343.1M965.6 316.8L1015 366.2M965.6 340.1L1015 389.5M965.6 362.7L1015 412.1M965.6 386.1L1015 435.5M965.6 407.8L1015 457.2M965.6 429.6L1015 479M965.6 453L1015 502.4M965.6 476.1L1015 525.5M965.6 499.4L1015 548.8M965.6 521.7L1054.5 610.6M965.6 544.8L1033.3 612.5M965.6 568.7L1009.4 612.5M965.6 591.3L987.4 613.1M965.6 611.2L973 618.6M1031 563.3L1078.9 611.2M1053.5 563.3L1102 611.8M1073 563.3L1121.3 611.6M1098.4 564.4L1146.6 612.6M1119.6 564.4L1166.7 611.5M1141.3 564.4L1189.1 612.2M1163.5 564.4L1211.1 612M1212.5 563.3L1261.4 612.2M1234 563.3L1284.1 613.4M1255.5 563.3L1305.8 613.6M1278.5 563.3L1328.8 613.6M1186.7 559.8L1234.1 607.2M1293.6 192.4L1340.9 239.7M1293.6 215.3L1340.9 262.6M1293.6 236.4L1340.9 283.7M1293.6 259.6L1340.9 306.9M1290.7 282L1337.7 329M1290.7 305.6L1337.7 352.6M1290.7 328L1337.7 375M1290.7 352.1L1337.7 399.1M1290.7 374L1337.7 421M1290.7 396.4L1337.7 443.4M1290.7 421.3L1337.7 468.3M1290.7 443.2L1337.7 490.2M1290.7 464.8L1337.7 511.8M1290.7 487.2L1337.7 534.2M1290.7 510.8L1337.7 557.8M1290.7 533.2L1337.7 580.2M1290.7 554.4L1337.7 601.4" stroke-width="1.53"/>
<path d="M1015 154.6 L1015 562.9 L1088 562.9" stroke-width="1.4"/>
<path d="M1290.7 162.8 L1290.7 563.8 L1196.2 563.8" stroke-width="1.4"/>
<line x1="1089.7" y1="156.6" x2="1089.7" y2="197.4" stroke-width="1"/>
<line x1="1196.9" y1="158.7" x2="1196.9" y2="197.4" stroke-width="1"/>
<line x1="1020.08" y1="168.4" x2="1084.92" y2="168.4" stroke-width="1"/>
<polygon points="1016,168.4 1022.8,166.5 1022.8,170.3" fill="#0c0c0c" stroke="none"/>
<polygon points="1089,168.4 1082.2,170.3 1082.2,166.5" fill="#0c0c0c" stroke="none"/>
<line x1="1201.68" y1="168.4" x2="1285.92" y2="168.4" stroke-width="1"/>
<polygon points="1197.6,168.4 1204.4,166.5 1204.4,170.3" fill="#0c0c0c" stroke="none"/>
<polygon points="1290,168.4 1283.2,170.3 1283.2,166.5" fill="#0c0c0c" stroke="none"/>
<text x="1042.6" y="164.9" font-size="9.7" fill="#0c0c0c" stroke="#0c0c0c" stroke-width="0.35"><tspan stroke-width="0.1">≥</tspan><tspan x="1048.8">800</tspan></text>
<text x="1244.3" y="164.9" font-size="9.7" text-anchor="middle" textLength="21.6" lengthAdjust="spacingAndGlyphs" fill="#0c0c0c" stroke="#0c0c0c" stroke-width="0.35">1800</text>
<rect x="1101.8" y="183.3" width="85.1" height="4.9" stroke-width="1.71"/>
<line x1="1110.8" y1="188.2" x2="1110.8" y2="193.7" stroke-width="1.34"/>
<line x1="1114.3" y1="188.2" x2="1114.3" y2="193.7" stroke-width="1.34"/>
<line x1="1174.5" y1="188.2" x2="1174.5" y2="193.7" stroke-width="1.34"/>
<line x1="1177.7" y1="188.2" x2="1177.7" y2="193.7" stroke-width="1.34"/>
<rect x="1092.8" y="193.7" width="98.7" height="3.7" stroke-width="1.59"/>
<line x1="1082.5" y1="197.4" x2="1203.5" y2="197.4" stroke-width="1.83"/>
<line x1="1088.7" y1="197.4" x2="1088.7" y2="547.6" stroke-width="1.71"/>
<line x1="1093.7" y1="197.4" x2="1093.7" y2="539.3" stroke-width="1.59"/>
<line x1="1099.3" y1="197.4" x2="1099.3" y2="533" stroke-width="1.95"/>
<line x1="1184.9" y1="197.4" x2="1184.9" y2="533" stroke-width="1.95"/>
<line x1="1190.8" y1="197.4" x2="1190.8" y2="539.3" stroke-width="1.59"/>
<line x1="1196.4" y1="197.4" x2="1196.4" y2="547.6" stroke-width="1.71"/>
<path d="M1082.6 197.4 C1082.2 225 1082 250 1082.6 259.5 C1083 263 1085 264.6 1088.7 264.8" stroke-width="1.59"/>
<line x1="1083.6" y1="266.8" x2="1088.7" y2="266.8" stroke-width="1.34"/>
<line x1="1082.8" y1="268.6" x2="1088.7" y2="268.6" stroke-width="1.71"/>
<line x1="1083.6" y1="270.4" x2="1088.7" y2="270.4" stroke-width="1.34"/>
<path d="M1088.7 272.4 C1085 272.6 1083.2 274.4 1082.8 278 C1082 350 1081.2 460 1080.6 530 C1080.6 533.4 1081.6 534.4 1084 534.4 H1088.7" stroke-width="1.59"/>
<path d="M1203.4 197.4 C1203.8 225 1204 250 1203.2 259.5 C1202.8 263 1200.6 264.6 1196.4 264.8" stroke-width="1.59"/>
<line x1="1196.4" y1="210.6" x2="1203.6" y2="210.6" stroke-width="1.46"/>
<line x1="1196.4" y1="266.8" x2="1201.6" y2="266.8" stroke-width="1.34"/>
<line x1="1196.4" y1="268.8" x2="1202.6" y2="268.8" stroke-width="1.71"/>
<line x1="1196.4" y1="270.8" x2="1201.6" y2="270.8" stroke-width="1.34"/>
<path d="M1196.4 272.8 C1200.4 273 1202.6 274.6 1203 278 C1203.6 350 1203.4 440 1202.6 492 C1202.4 495.6 1200.4 497.2 1196.4 497.4" stroke-width="1.59"/>
<line x1="1196.4" y1="499.4" x2="1201.2" y2="499.4" stroke-width="1.34"/>
<line x1="1196.4" y1="501.6" x2="1202.2" y2="501.6" stroke-width="1.71"/>
<line x1="1196.4" y1="503.8" x2="1201.2" y2="503.8" stroke-width="1.34"/>
<path d="M1196.4 505.8 C1200 506 1201.8 507.4 1202 510.5 V530.5 C1202 533.6 1200.8 534.6 1198.4 534.6 H1196.4" stroke-width="1.59"/>
<line x1="1099.3" y1="205" x2="1184.9" y2="205" stroke-width="1.95"/>
<path d="M1099.3 216.8 L1166.2 216.8 L1166.2 245.2 L1179.3 245.2 L1179.3 250.7" stroke-width="1.95"/>
<line x1="1111.9" y1="216.8" x2="1111.9" y2="250.7" stroke-width="1.71"/>
<line x1="1136.4" y1="216.8" x2="1136.4" y2="250.7" stroke-width="1.71"/>
<line x1="1161.3" y1="216.8" x2="1161.3" y2="250.7" stroke-width="1.71"/>
<line x1="1164.1" y1="216.8" x2="1164.1" y2="250.7" stroke-width="1.46"/>
<path d="M1111.9 225.8 L1108.9 226.6 L1108.9 237.6 L1111.9 238.4" stroke-width="1.34"/>
<path d="M1136.4 225.8 L1133.4 226.6 L1133.4 237.6 L1136.4 238.4" stroke-width="1.34"/>
<path d="M1161.3 225.8 L1158.3 226.6 L1158.3 237.6 L1161.3 238.4" stroke-width="1.34"/>
<line x1="1099.3" y1="250.7" x2="1184.9" y2="250.7" stroke-width="1.95"/>
<line x1="1099.3" y1="257.3" x2="1184.9" y2="257.3" stroke-width="1.95"/>
<line x1="1136.4" y1="257.3" x2="1136.4" y2="376.5" stroke-width="1.71"/>
<line x1="1146.4" y1="257.3" x2="1146.4" y2="376.5" stroke-width="1.71"/>
<line x1="1099.3" y1="376.5" x2="1184.9" y2="376.5" stroke-width="1.95"/>
<line x1="1099.3" y1="385.7" x2="1184.9" y2="385.7" stroke-width="1.95"/>
<line x1="1099.3" y1="472.8" x2="1184.9" y2="472.8" stroke-width="1.95"/>
<line x1="1099.3" y1="482.1" x2="1184.9" y2="482.1" stroke-width="1.95"/>
<line x1="1099.3" y1="513" x2="1164.1" y2="513" stroke-width="1.95"/>
<line x1="1111.1" y1="482.1" x2="1111.1" y2="513" stroke-width="1.71"/>
<path d="M1111.1 494.3 L1108.1 495.1 L1108.1 503.9 L1111.1 504.7" stroke-width="1.34"/>
<line x1="1134.8" y1="482.1" x2="1134.8" y2="513" stroke-width="1.71"/>
<path d="M1134.8 494.3 L1131.8 495.1 L1131.8 503.9 L1134.8 504.7" stroke-width="1.34"/>
<line x1="1158.6" y1="482.1" x2="1158.6" y2="513" stroke-width="1.71"/>
<path d="M1158.6 494.3 L1155.6 495.1 L1155.6 503.9 L1158.6 504.7" stroke-width="1.34"/>
<line x1="1161.3" y1="482.1" x2="1161.3" y2="513" stroke-width="1.46"/>
<path d="M1176.6 482.1 L1176.6 487.4 L1164.1 487.4 L1164.1 513" stroke-width="1.71"/>
<path d="M1184.9 501.2 L1174.1 501.2 L1174.1 532.8" stroke-width="1.71"/>
<path d="M1174.1 512.3 L1177.7 512.3 L1177.7 527.5 L1174.1 527.5" stroke-width="1.34"/>
<line x1="1099.3" y1="533" x2="1184.9" y2="533" stroke-width="1.95"/>
<line x1="1093.7" y1="539.3" x2="1190.8" y2="539.3" stroke-width="1.71"/>
<line x1="1088.7" y1="547.6" x2="1196.4" y2="547.6" stroke-width="2.07"/>
<line x1="1099.3" y1="533" x2="1088.7" y2="547.6" stroke-width="1.46"/>
<line x1="1184.9" y1="533" x2="1196.4" y2="547.6" stroke-width="1.46"/>
<path d="M1088.7 547.6 L1088.7 571.3 L1095.6 571.3" stroke-width="1.34"/>
<path d="M1196.2 547.6 L1196.2 571 L1183.2 571" stroke-width="1.34"/>
<path d="M1095.6 547.6 L1095.6 585.1 L1183.2 585.1 L1183.2 547.6" stroke-width="1.34"/>
<line x1="1203.5" y1="198.4" x2="1243.7" y2="198.4" stroke-width="1"/>
<line x1="1196.4" y1="548" x2="1243" y2="548" stroke-width="1"/>
<line x1="1234.6" y1="202.66" x2="1234.6" y2="543.74" stroke-width="1"/>
<polygon points="1234.6,198.7 1236.1,205.3 1233.1,205.3" fill="#0c0c0c" stroke="none"/>
<polygon points="1234.6,547.7 1233.1,541.1 1236.1,541.1" fill="#0c0c0c" stroke="none"/>
<text x="1230.2" y="372.8" font-size="11.3" text-anchor="middle" transform="rotate(-90 1230.2 372.8)" textLength="22.5" lengthAdjust="spacingAndGlyphs" fill="#0c0c0c" stroke="#0c0c0c" stroke-width="0.4">2200</text>
<path d="M1117.1 572.8 L1154.6 651.2 L1196.6 651.2" stroke-width="1.46"/>
<path d="M1194.4 568.7 L1261.7 653.1 L1322.8 653.1" stroke-width="1.46"/>
<text x="1183.3" y="647" font-size="9.9" text-anchor="middle" font-weight="700" font-family='"Liberation Sans","Noto Sans CJK SC",sans-serif' fill="#0c0c0c" stroke="none">电缆沟</text>
<text x="1309.8" y="647" font-size="9.9" text-anchor="middle" font-weight="700" font-family='"Liberation Sans","Noto Sans CJK SC",sans-serif' fill="#0c0c0c" stroke="none">槽钢</text>
</svg>
<table><colgroup><col style="width:267.3px"><col style="width:267.3px"><col style="width:267.5px"><col style="width:267.3px"><col></colgroup>
<thead><tr><th><span class="k">产品代号</span></th><th><span class="n">A</span></th><th><span class="n">B</span></th><th><span class="n">C</span></th><th><span class="n">D</span></th></tr></thead><tbody>
<tr><td><span class="c">GGD06</span></td><td><span class="n">600</span></td><td><span class="n">600</span></td><td><span class="n">450</span></td><td><span class="n">556</span></td></tr>
<tr class="g"><td><span class="c">GGD06A</span></td><td><span class="n">600</span></td><td><span class="n">800</span></td><td><span class="n">450</span></td><td><span class="n">756</span></td></tr>
<tr><td><span class="c">GGD08</span></td><td><span class="n">800</span></td><td><span class="n">600</span></td><td><span class="n">650</span></td><td><span class="n">556</span></td></tr>
<tr class="g"><td><span class="c">GGD08A</span></td><td><span class="n">800</span></td><td><span class="n">800</span></td><td><span class="n">650</span></td><td><span class="n">756</span></td></tr>
<tr><td><span class="c">GGD10A</span></td><td><span class="n">1000</span></td><td><span class="n">600</span></td><td><span class="n">850</span></td><td><span class="n">556</span></td></tr>
<tr class="g"><td><span class="c">GGD10A</span></td><td><span class="n">1000</span></td><td><span class="n">800</span></td><td><span class="n">850</span></td><td><span class="n">756</span></td></tr>
<tr><td><span class="c">GGD12</span></td><td><span class="n">1200</span></td><td><span class="n">800</span></td><td><span class="n">1050</span></td><td><span class="n">756</span></td></tr>
</tbody></table>
<div class="h" style="top:1448.6px">产品成套性</div>
<svg class="rule" style="top:1475px" viewBox="0 0 1373 30" width="1373" height="30"><line x1="42.5" y1="15" x2="1355.5" y2="15" stroke="#b9b9b9" stroke-width="1.6"/><circle cx="30" cy="15" r="12.4" fill="#fff" stroke="#707070" stroke-width="1"/><circle cx="30" cy="15" r="8.7" fill="#fdfdfd" stroke="#727272" stroke-width="1"/></svg>
<ul class="lst"><li>◆ 我公司供货时提供下列文件及附件<i>：</i></li><li>◇ 装箱清单</li><li>◇ 产品合格证</li><li>◇ 使用说明书</li><li>◇ 出厂试验报告</li><li>◇ 有关电气图纸</li><li>◇ 柜门钥匙，操作手柄及合同单规定的备品条件。</li></ul>
</body>
</html>
